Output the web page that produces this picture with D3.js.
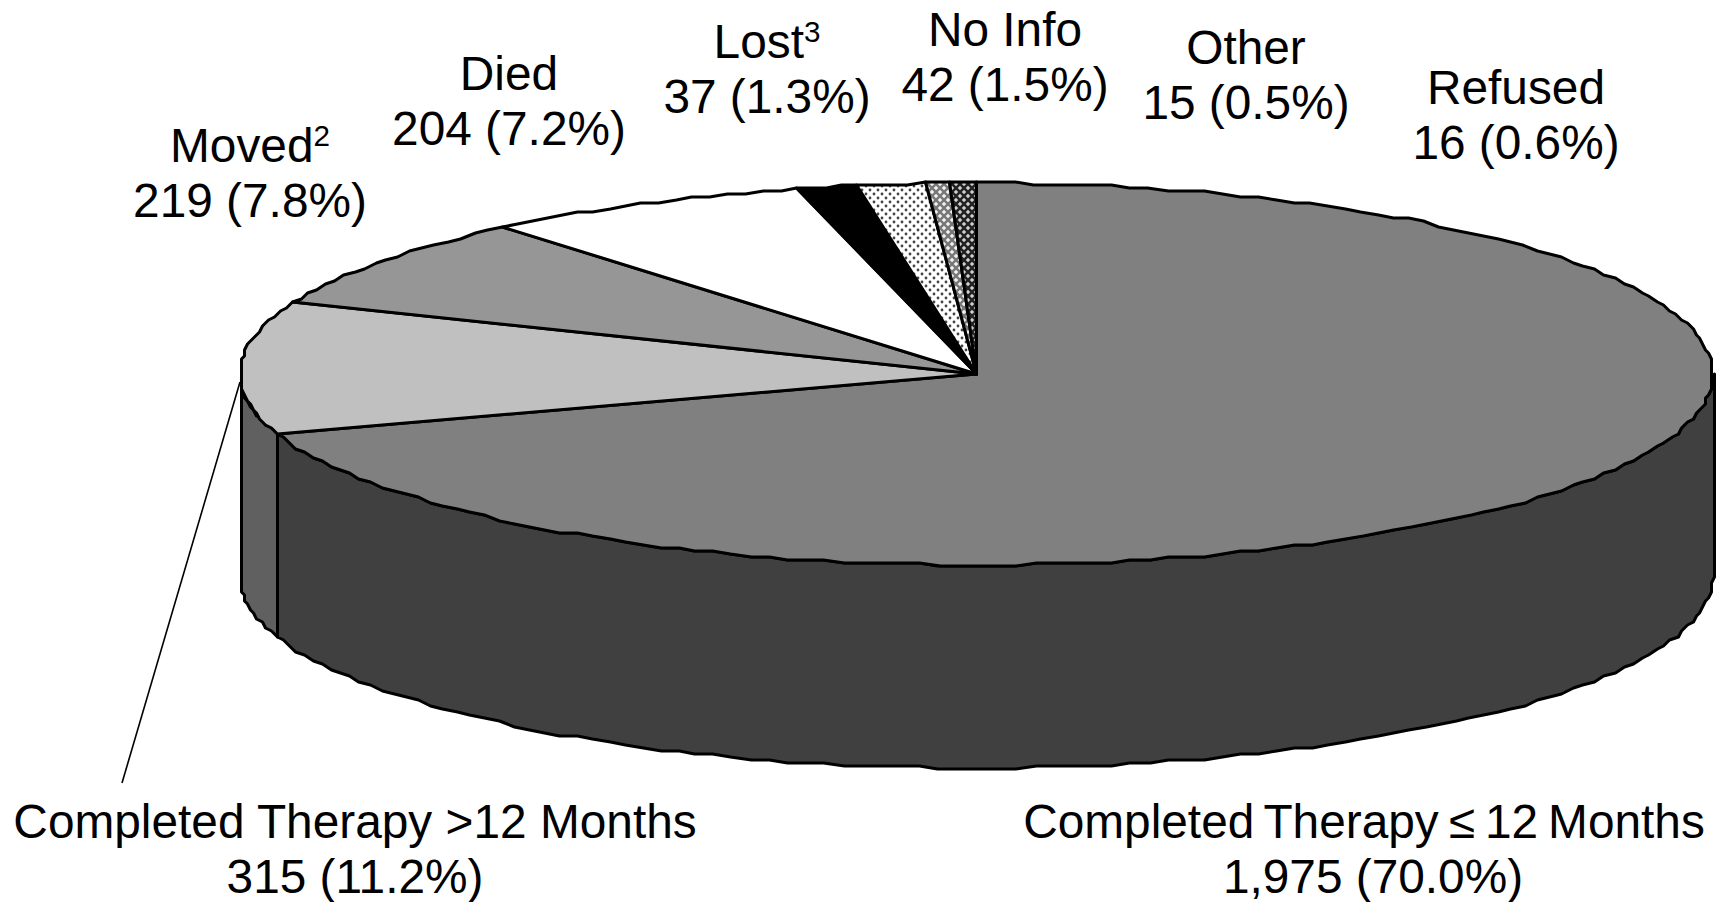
<!DOCTYPE html>
<html><head><meta charset="utf-8">
<script src="https://cdn.jsdelivr.net/npm/d3@7/dist/d3.min.js"></script>
<style>html,body{margin:0;padding:0;background:#fff;overflow:hidden}svg{display:block}</style>
</head><body><svg id="c" width="1727" height="902"></svg>
<script>
const categories = ["Completed Therapy \u2264 12 Months","Completed Therapy >12 Months","Moved","Died","Lost","No Info","Other","Refused"];
const superscripts = ["","","2","","3","","",""];
const counts = [1975,315,219,204,37,42,15,16];
const countLabels = ["1,975","315","219","204","37","42","15","16"];
const percents = ["70.0%","11.2%","7.8%","7.2%","1.3%","1.5%","0.5%","0.6%"];
const topFills = ["#808080","#c0c0c0","#969696","#ffffff","#000000","url(#dots)","url(#hatchA)","url(#hatchB)"];
const sideFills = ["#404040","#606060"];
const labelCentres = [[1364,838],[355,838],[250,162],[509,90],[767,58],[1005,46],[1246,64],[1516,104]];
const valueCentres = [[1373,892.5],[355,892.5],[250,217],[509,145],[767,113],[1005,101],[1246,119],[1516,159]];

const W=1727,H=902,cx=976.5,cy=374,rx=736.5,ry=191,depth=203,snap=3;
const svg=d3.select("#c");
const defs=svg.append("defs");
function pat(id,bg,draw){const p=defs.append("pattern").attr("id",id).attr("width",8).attr("height",8).attr("patternUnits","userSpaceOnUse");
  p.append("rect").attr("width",8).attr("height",8).attr("fill",bg);draw(p);}
pat("dots","#fff",p=>{[[2,2],[6,6]].forEach(c=>p.append("circle").attr("cx",c[0]).attr("cy",c[1]).attr("r",1.4).attr("fill","#444"));});
pat("hatchA","#f0f0f0",p=>{p.append("path").attr("d","M0,0L8,8M8,0L0,8").attr("stroke","#777").attr("stroke-width",2.4);});
pat("hatchB","#d0d0d0",p=>{p.append("path").attr("d","M0,0L8,8M8,0L0,8").attr("stroke","#222").attr("stroke-width",2.6);});

const arcs=d3.pie().sort(null).startAngle(0).endAngle(2*Math.PI)(counts);
// rim of the disc: the ellipse snapped to a coarse grid, as in the source's rough outline
const q=v=>Math.round(v/snap)*snap;
const rim=a=>[cx+q(rx*Math.sin(a)),cy+q(-ry*Math.cos(a))];
const line=d3.line();
const step=Math.PI/120;
function rimPts(a0,a1){const n=Math.max(1,Math.ceil((a1-a0)/step));return d3.range(n+1).map(i=>rim(a0+(a1-a0)*i/n));}

arcs.forEach((d,i)=>{
  const a0=Math.max(d.startAngle,Math.PI/2),a1=Math.min(d.endAngle,3*Math.PI/2);
  if(a1>a0){
    const top=rimPts(a0,a1),bot=top.slice().reverse().map(p=>[p[0],p[1]+depth]);
    svg.append("path").attr("d",line(top.concat(bot))+"Z").attr("fill",sideFills[i]).attr("stroke","#000").attr("stroke-width",3).attr("stroke-linejoin","round");
  }
});

svg.append("g").selectAll("path").data(arcs).join("path")
 .attr("d",d=>line([[cx,cy]].concat(rimPts(d.startAngle,d.endAngle)))+"Z")
 .attr("fill",(d,i)=>topFills[i]).attr("stroke","#000").attr("stroke-width",3).attr("stroke-linejoin","round");

// leader line for Completed Therapy >12 Months
svg.append("line").attr("x1",240).attr("y1",382).attr("x2",122).attr("y2",783).attr("stroke","#000").attr("stroke-width",1.6);

const fs=47.8;
const t=svg.append("g").attr("font-family","'Liberation Sans',Arial,sans-serif").attr("font-size",fs).attr("fill","#000").attr("text-anchor","middle");
categories.forEach((c,i)=>{
  const [x,y]=labelCentres[i];
  const a=t.append("text").attr("x",x).attr("y",y);
  if(i===0) a.attr("word-spacing",-3.3);
  a.append("tspan").text(c);
  if(superscripts[i]) a.append("tspan").attr("font-size",fs*0.62).attr("dy",-16).text(superscripts[i]);
  t.append("text").attr("x",valueCentres[i][0]).attr("y",valueCentres[i][1]).text(`${countLabels[i]} (${percents[i]})`);
});
</script></body></html>
